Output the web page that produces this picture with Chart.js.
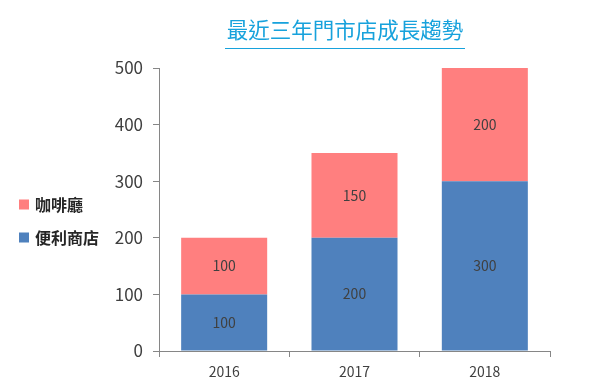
<!DOCTYPE html>
<html lang="zh-Hant">
<head>
    <meta charset="UTF-8">
    <title>最近三年門市店成長趨勢</title>
    <script src="https://cdn.jsdelivr.net/npm/chart.js"></script>
    <style>
        html, body { margin: 0; padding: 0; background: #fff; overflow: hidden; }
    </style>
</head>
<body>
    <canvas id="storeChart" width="600" height="391"></canvas>

    <script>
        const years = ['2016', '2017', '2018'];
        const convenienceStores = [100, 200, 300];
        const coffeeShops = [100, 150, 200];
        const yTicks = [0, 100, 200, 300, 400, 500];

        const FONT = '"Microsoft JhengHei", "Noto Sans CJK TC", "Open Sans", sans-serif';

        // title with underline, drawn by hand so it sits over the plot
        const titlePlugin = {
            id: 'underlinedTitle',
            afterDraw(chart) {
                const ctx = chart.ctx;
                ctx.save();
                ctx.font = '21.5px ' + FONT;
                ctx.fillStyle = '#17a2dc';
                ctx.textAlign = 'center';
                ctx.textBaseline = 'middle';
                ctx.fillText('最近三年門市店成長趨勢', 345, 30);
                ctx.strokeStyle = '#17a2dc';
                ctx.lineWidth = 1.2;
                ctx.beginPath();
                ctx.moveTo(225, 48.5);
                ctx.lineTo(465, 48.5);
                ctx.stroke();
                ctx.restore();
            }
        };

        // value labels centred in each segment
        const valueLabels = {
            id: 'valueLabels',
            afterDatasetsDraw(chart) {
                const ctx = chart.ctx;
                ctx.save();
                ctx.font = '14px ' + FONT;
                ctx.fillStyle = '#404040';
                ctx.textAlign = 'center';
                ctx.textBaseline = 'middle';
                chart.data.datasets.forEach((ds, i) => {
                    chart.getDatasetMeta(i).data.forEach((bar, j) => {
                        const mid = (bar.y + bar.base) / 2;
                        ctx.fillText(ds.data[j], bar.x, mid);
                    });
                });
                ctx.restore();
            }
        };

        // legend on the far left, top item = last dataset
        const sideLegend = {
            id: 'sideLegend',
            afterDraw(chart) {
                const ctx = chart.ctx;
                const items = chart.data.datasets.slice().reverse();
                ctx.save();
                ctx.font = 'bold 16px ' + FONT;
                ctx.textBaseline = 'middle';
                items.forEach((ds, i) => {
                    const y = 204.5 + i * 33;
                    ctx.fillStyle = ds.backgroundColor;
                    ctx.fillRect(19, y - 5, 10, 10);
                    ctx.fillStyle = '#262626';
                    ctx.fillText(ds.label, 35, y);
                });
                ctx.restore();
            }
        };

        new Chart(document.getElementById('storeChart'), {
            type: 'bar',
            data: {
                labels: years,
                datasets: [
                    { label: '便利商店', data: convenienceStores, backgroundColor: '#4f81bd' },
                    { label: '咖啡廳', data: coffeeShops, backgroundColor: '#ff7f7f' }
                ]
            },
            options: {
                responsive: false,
                animation: false,
                layout: { padding: { top: 68, left: 99, right: 50, bottom: 10 } },
                datasets: { bar: { categoryPercentage: 1, barPercentage: 0.66 } },
                plugins: {
                    legend: { display: false },
                    tooltip: { enabled: false }
                },
                scales: {
                    x: {
                        stacked: true,
                        afterFit(s) { s.height = 30; },
                        grid: { drawOnChartArea: false, tickLength: 6, color: '#868686', offset: true },
                        border: { color: '#868686' },
                        ticks: { color: '#404040', font: { family: FONT, size: 14 }, padding: 6, maxRotation: 0 }
                    },
                    y: {
                        stacked: true,
                        min: 0,
                        max: 500,
                        afterFit(s) { s.width = 60; },
                        afterBuildTicks(s) { s.ticks = yTicks.map(v => ({ value: v })); },
                        grid: { drawOnChartArea: false, tickLength: 6, color: '#868686' },
                        border: { color: '#868686' },
                        ticks: { color: '#404040', font: { family: FONT, size: 17 }, padding: 10 }
                    }
                }
            },
            plugins: [titlePlugin, valueLabels, sideLegend]
        });
    </script>
</body>
</html>
